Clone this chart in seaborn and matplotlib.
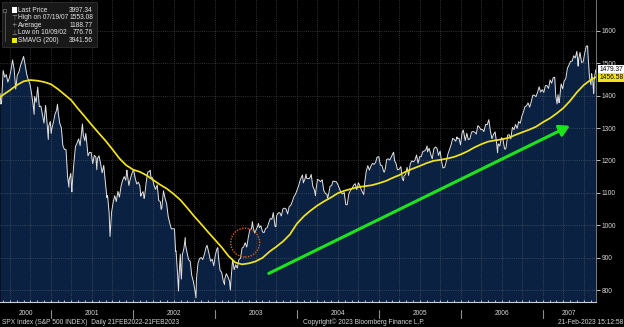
import pandas as pd
import matplotlib
matplotlib.use("Agg")
import matplotlib.pyplot as plt
import matplotlib.dates as mdates
import matplotlib.transforms as mtransforms
from matplotlib.patches import Ellipse, Rectangle
from matplotlib.ticker import MultipleLocator
import seaborn as sns

# ---------------------------------------------------------------- data
# SPX closes (month-day, close), one list per calendar year
prices_2000 = [("05-19", 1406.95), ("05-23", 1373.86), ("05-26", 1378.02), ("06-02", 1477.26),
               ("06-09", 1456.95), ("06-16", 1464.46), ("06-23", 1441.48), ("06-30", 1454.60),
               ("07-07", 1478.90), ("07-14", 1509.98), ("07-21", 1480.19), ("07-28", 1419.89),
               ("08-04", 1462.93), ("08-11", 1471.84), ("08-18", 1491.72), ("08-25", 1506.45),
               ("09-01", 1520.77), ("09-08", 1494.50), ("09-15", 1465.81), ("09-22", 1448.72),
               ("09-29", 1436.51), ("10-06", 1408.99), ("10-13", 1374.17), ("10-18", 1342.13),
               ("10-20", 1396.93), ("10-27", 1379.58), ("11-03", 1426.69), ("11-10", 1365.98),
               ("11-17", 1367.72), ("11-24", 1341.77), ("12-01", 1315.23), ("12-08", 1369.89),
               ("12-15", 1312.15), ("12-20", 1264.74), ("12-22", 1305.95), ("12-29", 1320.28)]
prices_2001 = [("01-02", 1283.27), ("01-05", 1298.35), ("01-12", 1318.32), ("01-19", 1342.54),
               ("01-26", 1354.95), ("01-30", 1373.73), ("02-02", 1349.47), ("02-09", 1314.76),
               ("02-16", 1301.53), ("02-23", 1245.86), ("03-02", 1234.18), ("03-09", 1233.42),
               ("03-16", 1150.53), ("03-22", 1117.58), ("03-23", 1139.83), ("03-30", 1160.33),
               ("04-04", 1103.25), ("04-06", 1128.43), ("04-12", 1183.50), ("04-20", 1242.98),
               ("04-27", 1253.05), ("05-04", 1266.61), ("05-11", 1245.67), ("05-21", 1312.83),
               ("05-25", 1277.89), ("06-01", 1260.67), ("06-05", 1283.57), ("06-08", 1264.96),
               ("06-15", 1214.36), ("06-22", 1225.35), ("06-29", 1224.38), ("07-06", 1190.59),
               ("07-13", 1215.68), ("07-20", 1210.85), ("07-24", 1171.65), ("07-27", 1205.82),
               ("08-03", 1214.35), ("08-10", 1190.16), ("08-17", 1161.97), ("08-24", 1184.93),
               ("08-31", 1133.58), ("09-07", 1085.78), ("09-10", 1092.54), ("09-17", 1038.77),
               ("09-21", 965.80), ("09-28", 1040.94), ("10-05", 1071.38), ("10-12", 1091.65),
               ("10-19", 1073.48), ("10-26", 1104.61), ("11-02", 1087.20), ("11-09", 1120.31),
               ("11-16", 1138.65), ("11-23", 1150.34), ("11-30", 1139.45), ("12-05", 1170.35),
               ("12-07", 1158.31), ("12-14", 1123.09), ("12-21", 1144.89), ("12-28", 1161.02)]
prices_2002 = [("01-04", 1172.51), ("01-11", 1145.60), ("01-18", 1127.58), ("01-25", 1133.28),
               ("02-01", 1122.20), ("02-05", 1090.02), ("02-08", 1096.22), ("02-15", 1104.18),
               ("02-20", 1083.34), ("02-22", 1089.84), ("03-01", 1131.78), ("03-08", 1164.31),
               ("03-15", 1166.16), ("03-19", 1170.29), ("03-22", 1148.70), ("03-28", 1147.39),
               ("04-05", 1122.73), ("04-12", 1111.01), ("04-19", 1125.17), ("04-26", 1076.32),
               ("05-03", 1073.43), ("05-07", 1049.49), ("05-10", 1054.99), ("05-17", 1106.59),
               ("05-24", 1083.82), ("05-31", 1067.14), ("06-07", 1027.53), ("06-14", 1007.27),
               ("06-21", 989.14), ("06-28", 989.82), ("07-05", 989.03), ("07-10", 920.47),
               ("07-12", 921.39), ("07-19", 847.75), ("07-23", 797.70), ("07-26", 852.84),
               ("07-31", 911.62), ("08-02", 864.24), ("08-05", 834.60), ("08-09", 908.64),
               ("08-16", 928.77), ("08-22", 962.70), ("08-23", 940.86), ("08-30", 916.07),
               ("09-06", 893.92), ("09-13", 889.81), ("09-20", 845.39), ("09-27", 827.37),
               ("10-04", 800.58), ("10-09", 776.76), ("10-11", 835.32), ("10-18", 884.39),
               ("10-25", 897.65), ("11-01", 900.96), ("11-08", 894.74), ("11-15", 909.83),
               ("11-22", 930.55), ("11-27", 938.87), ("12-06", 912.23), ("12-13", 889.48),
               ("12-20", 895.76), ("12-27", 875.40)]
prices_2003 = [("01-03", 908.59), ("01-10", 927.57), ("01-14", 931.66), ("01-17", 901.78),
               ("01-24", 861.40), ("01-31", 855.70), ("02-07", 829.69), ("02-13", 817.37),
               ("02-14", 834.89), ("02-21", 851.17), ("02-28", 841.15), ("03-07", 828.89),
               ("03-11", 800.73), ("03-14", 833.27), ("03-21", 895.79), ("03-28", 863.50),
               ("04-04", 878.85), ("04-11", 868.30), ("04-17", 893.58), ("04-25", 898.81),
               ("05-02", 930.08), ("05-09", 933.41), ("05-16", 946.67), ("05-23", 933.22),
               ("05-30", 963.59), ("06-06", 987.76), ("06-13", 988.61), ("06-17", 1011.66),
               ("06-20", 995.69), ("06-27", 976.22), ("07-03", 985.70), ("07-11", 998.14),
               ("07-14", 1006.06), ("07-18", 993.32), ("07-25", 998.68), ("08-01", 980.15),
               ("08-08", 977.59), ("08-15", 990.67), ("08-22", 993.06), ("08-29", 1008.01),
               ("09-05", 1021.39), ("09-12", 1018.63), ("09-18", 1039.58), ("09-26", 996.85),
               ("09-30", 995.97), ("10-03", 1029.85), ("10-10", 1038.06), ("10-17", 1039.32),
               ("10-24", 1028.91), ("10-31", 1050.71), ("11-07", 1053.21), ("11-14", 1050.35),
               ("11-21", 1035.28), ("11-28", 1058.20), ("12-05", 1061.50), ("12-12", 1074.14),
               ("12-19", 1088.66), ("12-26", 1095.89)]
prices_2004 = [("01-02", 1108.48), ("01-09", 1121.86), ("01-16", 1139.83), ("01-26", 1155.37),
               ("01-30", 1131.13), ("02-06", 1142.76), ("02-11", 1157.76), ("02-13", 1145.81),
               ("02-20", 1144.11), ("02-27", 1144.94), ("03-05", 1156.86), ("03-12", 1120.57),
               ("03-19", 1109.78), ("03-24", 1091.33), ("03-26", 1108.06), ("04-02", 1141.81),
               ("04-08", 1139.32), ("04-16", 1134.61), ("04-23", 1140.60), ("04-30", 1107.30),
               ("05-07", 1098.70), ("05-14", 1095.70), ("05-17", 1084.10), ("05-21", 1093.56),
               ("05-28", 1120.68), ("06-04", 1122.50), ("06-10", 1136.47), ("06-18", 1135.02),
               ("06-25", 1134.43), ("07-02", 1125.38), ("07-09", 1112.81), ("07-16", 1101.39),
               ("07-23", 1096.84), ("07-30", 1101.72), ("08-06", 1063.97), ("08-12", 1063.23),
               ("08-20", 1098.35), ("08-27", 1107.77), ("09-03", 1113.63), ("09-10", 1123.92),
               ("09-17", 1128.55), ("09-24", 1110.11), ("10-01", 1131.50), ("10-08", 1122.14),
               ("10-15", 1108.20), ("10-25", 1094.81), ("10-29", 1130.20), ("11-05", 1166.17),
               ("11-12", 1184.17), ("11-19", 1170.34), ("11-26", 1182.65), ("12-03", 1191.17),
               ("12-10", 1188.00), ("12-17", 1194.20), ("12-23", 1210.13), ("12-31", 1211.92)]
prices_2005 = [("01-07", 1186.19), ("01-14", 1184.52), ("01-21", 1167.87), ("01-24", 1163.75),
               ("01-28", 1171.36), ("02-04", 1203.03), ("02-11", 1205.30), ("02-18", 1201.59),
               ("02-25", 1211.37), ("03-04", 1222.12), ("03-07", 1225.31), ("03-11", 1200.08),
               ("03-18", 1190.21), ("03-24", 1171.42), ("04-01", 1172.92), ("04-08", 1181.20),
               ("04-15", 1142.62), ("04-20", 1137.50), ("04-22", 1152.12), ("04-29", 1156.85),
               ("05-06", 1178.84), ("05-13", 1154.05), ("05-20", 1189.28), ("05-27", 1198.78),
               ("06-03", 1196.02), ("06-10", 1200.93), ("06-17", 1216.96), ("06-24", 1191.57),
               ("07-01", 1211.86), ("07-08", 1211.86), ("07-15", 1227.92), ("07-22", 1229.03),
               ("07-29", 1234.18), ("08-03", 1245.04), ("08-05", 1226.42), ("08-12", 1237.81),
               ("08-19", 1219.71), ("08-26", 1205.10), ("09-02", 1235.39), ("09-09", 1241.48),
               ("09-16", 1237.91), ("09-23", 1215.29), ("09-30", 1228.81), ("10-07", 1195.90),
               ("10-13", 1176.84), ("10-21", 1179.59), ("10-28", 1198.41), ("11-04", 1220.14),
               ("11-11", 1234.72), ("11-18", 1248.27), ("11-25", 1268.25), ("12-02", 1265.08),
               ("12-09", 1259.37), ("12-14", 1272.74), ("12-16", 1267.32), ("12-23", 1268.66),
               ("12-30", 1248.29)]
prices_2006 = [("01-06", 1285.45), ("01-11", 1294.18), ("01-13", 1287.61), ("01-20", 1261.49),
               ("01-27", 1283.72), ("02-03", 1264.03), ("02-10", 1266.99), ("02-17", 1287.24),
               ("02-24", 1289.43), ("03-03", 1287.23), ("03-10", 1281.42), ("03-17", 1307.25),
               ("03-24", 1302.95), ("03-31", 1294.83), ("04-07", 1295.50), ("04-13", 1289.12),
               ("04-21", 1311.28), ("04-28", 1310.61), ("05-05", 1325.76), ("05-12", 1291.24),
               ("05-19", 1267.03), ("05-26", 1280.16), ("06-02", 1288.22), ("06-09", 1252.30),
               ("06-13", 1223.69), ("06-16", 1251.54), ("06-23", 1244.50), ("06-30", 1270.20),
               ("07-07", 1265.48), ("07-14", 1236.20), ("07-18", 1234.49), ("07-21", 1240.29),
               ("07-28", 1278.55), ("08-04", 1279.36), ("08-11", 1266.74), ("08-18", 1302.30),
               ("08-25", 1295.09), ("09-01", 1311.01), ("09-08", 1298.92), ("09-15", 1319.66),
               ("09-22", 1314.78), ("09-29", 1335.85), ("10-06", 1349.59), ("10-13", 1365.62),
               ("10-20", 1368.60), ("10-27", 1377.34), ("11-03", 1364.30), ("11-10", 1380.90),
               ("11-17", 1401.20), ("11-24", 1400.95), ("12-01", 1396.71), ("12-08", 1409.84),
               ("12-15", 1427.09), ("12-22", 1410.76), ("12-29", 1418.30)]
prices_2007 = [("01-05", 1409.71), ("01-12", 1430.73), ("01-19", 1430.50), ("01-26", 1422.18),
               ("02-02", 1448.39), ("02-09", 1438.06), ("02-16", 1455.54), ("02-22", 1456.38),
               ("02-23", 1451.19), ("02-27", 1399.04), ("03-02", 1387.17), ("03-05", 1374.12),
               ("03-09", 1402.84), ("03-14", 1377.95), ("03-16", 1386.95), ("03-23", 1436.11),
               ("03-30", 1420.86), ("04-05", 1443.76), ("04-13", 1452.85), ("04-20", 1484.35),
               ("04-27", 1494.07), ("05-04", 1505.62), ("05-11", 1505.85), ("05-18", 1522.75),
               ("05-25", 1515.73), ("06-01", 1536.34), ("06-07", 1490.72), ("06-08", 1507.67),
               ("06-15", 1532.91), ("06-22", 1502.56), ("06-29", 1503.35), ("07-06", 1530.44),
               ("07-13", 1552.50), ("07-19", 1553.08), ("07-20", 1534.10), ("07-27", 1458.95),
               ("08-03", 1433.06), ("08-06", 1467.67), ("08-09", 1453.09), ("08-10", 1453.64),
               ("08-15", 1406.70), ("08-16", 1411.27), ("08-17", 1445.94), ("08-24", 1479.37)]
price_years = [2000, 2001, 2002, 2003, 2004, 2005, 2006, 2007]

# 200-day simple moving average, first of each month Jun-2000 .. Aug-2007
sma_first = ("2000-05-19", 1395.0)
sma_monthly = [1402, 1416, 1432, 1444, 1448, 1446, 1442,
               1435, 1420, 1404, 1386, 1360, 1335, 1310, 1285, 1261, 1235, 1207, 1186,
               1172, 1165, 1155, 1140, 1126, 1113, 1097, 1078, 1053, 1028, 1004, 980,
               956, 932, 907, 886, 880, 883, 889, 900, 919, 934, 951, 972,
               1005, 1028, 1045, 1061, 1074, 1086, 1099, 1107, 1113, 1118, 1121, 1124,
               1130, 1137, 1146, 1155, 1166, 1175, 1183, 1192, 1199, 1202, 1206, 1211,
               1219, 1229, 1240, 1250, 1258, 1262, 1265, 1270, 1279, 1287, 1295, 1304,
               1318, 1330, 1344, 1361, 1383, 1410, 1432, 1448]
sma_last = ("2007-08-24", 1456.58)

last_price = 1479.37
last_sma = 1456.58

legend_labels = ["Last Price", "High on 07/19/07", "Average", "Low on 10/09/02", "SMAVG (200)"]
legend_values = ["3997.34", "1553.08", "1188.77", "776.76", "3941.56"]

# trend arrow and highlighted breakout (date, level)
trend_start = ("2003-08-29", 852)
trend_end = ("2007-05-01", 1307)
breakout_center = ("2003-05-16", 947)
breakout_size = (129, 89)      # days wide, index points tall

y_ticks = [800, 900, 1000, 1100, 1200, 1300, 1400, 1500, 1600]
y_limits = (763, 1694.6)

# ---------------------------------------------------------------- frames
rows = []
for yr, lst in zip(price_years, [prices_2000, prices_2001, prices_2002, prices_2003,
                                 prices_2004, prices_2005, prices_2006, prices_2007]):
    for md, v in lst:
        rows.append((pd.Timestamp(f"{yr}-{md}"), v))
price = pd.DataFrame(rows, columns=["date", "close"])

sma_dates = ([pd.Timestamp(sma_first[0])]
             + list(pd.date_range("2000-06-01", periods=len(sma_monthly), freq="MS"))
             + [pd.Timestamp(sma_last[0])])
sma = pd.DataFrame({"date": sma_dates,
                    "sma": [sma_first[1]] + sma_monthly + [sma_last[1]]})

# ---------------------------------------------------------------- style
sns.set_style("dark")
plt.rcParams["font.family"] = ["Liberation Sans", "DejaVu Sans"]

W, H = 624, 327
AX_RIGHT, AX_BOTTOM = 595.7, 302.3
fig = plt.figure(figsize=(W / 100, H / 100), dpi=100, facecolor="black")
ax = fig.add_axes([0, (H - AX_BOTTOM) / H, AX_RIGHT / W, AX_BOTTOM / H])
ax.set_facecolor("black")
px = mtransforms.Affine2D().scale(1 / W, -1 / H).translate(0, 1) + fig.transFigure

FILL = "#0b2142"
YELLOW = "#f2e41c"
GREEN = "#1fe21f"
TXT = "#d4d4d4"
FS = 4.8

x0, x1 = price["date"].iloc[0], price["date"].iloc[-1]

# area under the price line
ax.fill_between(price["date"], price["close"], y_limits[0], color=FILL, lw=0, zorder=0.2)
sns.lineplot(data=price, x="date", y="close", ax=ax, color="#e2e2e2", lw=0.7, zorder=3)
sns.lineplot(data=sma, x="date", y="sma", ax=ax, color=YELLOW, lw=1.25, zorder=4)

# axes
ax.set_xlim(x0, x1)
ax.set_ylim(*y_limits)
ax.set_xlabel("")
ax.set_ylabel("")
ax.xaxis.set_major_locator(mdates.MonthLocator(bymonth=[1, 4, 7, 10]))
ax.xaxis.set_minor_locator(mdates.MonthLocator())
ax.yaxis.set_major_locator(MultipleLocator(100))
ax.set_yticks(y_ticks)
ax.set_yticklabels([str(t) for t in y_ticks])
ax.yaxis.tick_right()
ax.tick_params(axis="y", which="both", direction="out", length=3, width=0.6, color="#e0e0e0",
               labelcolor=TXT, labelsize=FS, pad=1.5, left=False, right=True)
ax.tick_params(axis="x", which="both", direction="in", length=1.6, width=0.6, color="#d8d8d8",
               labelbottom=False, bottom=True)
ax.set_axisbelow(True)
ax.grid(True, which="major", axis="both", color="#7a7a7a", lw=0.6, linestyle=(0, (1, 1.6)), alpha=0.55)
for side in ("top", "left"):
    ax.spines[side].set_visible(False)
ax.spines["bottom"].set_color("#d0d0d0")
ax.spines["bottom"].set_linewidth(0.8)
ax.spines["right"].set_color("#8a8a8a")
ax.spines["right"].set_linewidth(0.6)

# year separators and centred year labels below the axis
blend = mtransforms.blended_transform_factory(ax.transData, ax.transAxes)
for yr in price_years:
    start = max(pd.Timestamp(f"{yr}-01-01"), x0)
    end = min(pd.Timestamp(f"{yr + 1}-01-01"), x1)
    mid = start + (end - start) / 2
    ax.text(mid, -0.037, str(yr), transform=blend, ha="center", va="center",
            fontsize=FS, color=TXT, clip_on=False)
    if yr > price_years[0]:
        ax.plot([start, start], [-0.026, -0.053], transform=blend, color="#8c8c8c",
                lw=0.8, clip_on=False)

# last value tags on the right edge
yblend = mtransforms.blended_transform_factory(ax.transAxes, ax.transData)
ax.text(1.006, last_price, f"{last_price:.2f}", transform=yblend, ha="left", va="center",
        fontsize=FS, color="black", zorder=6,
        bbox=dict(boxstyle="square,pad=0.15", fc="white", ec="none"))
ax.text(1.006, last_sma, f"{last_sma:.2f}", transform=yblend, ha="left", va="center",
        fontsize=FS, color="black", zorder=6,
        bbox=dict(boxstyle="square,pad=0.15", fc=YELLOW, ec="none"))

# trend arrow
ax.annotate("", xy=(pd.Timestamp(trend_end[0]), trend_end[1]),
            xytext=(pd.Timestamp(trend_start[0]), trend_start[1]),
            arrowprops=dict(arrowstyle="-|>,head_length=0.55,head_width=0.32", color=GREEN,
                            lw=2.2, mutation_scale=11, shrinkA=0, shrinkB=0), zorder=5)

# dotted ring around the breakout
ax.add_patch(Ellipse((mdates.date2num(pd.Timestamp(breakout_center[0])), breakout_center[1]),
                     width=breakout_size[0], height=breakout_size[1], fill=False,
                     edgecolor="#d8621f", lw=1.0, linestyle=(0, (1, 1)), zorder=5))

# legend panel
fig.add_artist(Rectangle((2, 2), 95, 45, transform=px, facecolor="#1b1b1b",
                         edgecolor="#3c3c3c", lw=0.5, alpha=0.92, zorder=10))
row_y = [10, 17.6, 25.2, 32.8, 40.6]
fig.add_artist(plt.Line2D([4.5, 4.5], [11.5, 40.6], transform=px, color="#6a6a6a", lw=0.5, zorder=11))
fig.add_artist(Rectangle((3, 8.5), 3, 3, transform=px, facecolor="none", edgecolor="#8a8a8a",
                         lw=0.4, zorder=11))
for i, (lab, val) in enumerate(zip(legend_labels, legend_values)):
    y = row_y[i]
    fig.text(18, y, lab, transform=px, ha="left", va="center", fontsize=FS, color="#e6e6e6", zorder=12)
    fig.text(93, y, val, transform=px, ha="right", va="center", fontsize=FS, color="#e6e6e6", zorder=12)
fig.add_artist(Rectangle((11.5, 7.2), 5.5, 5.5, transform=px, facecolor="white", edgecolor="none", zorder=11))
fig.add_artist(Rectangle((11.5, 37.8), 5.5, 5.5, transform=px, facecolor=YELLOW, edgecolor="none", zorder=11))
for sym, y in zip(["\u22a4", "+", "\u22a5"], row_y[1:4]):
    fig.text(14.2, y, sym, transform=px, ha="center", va="center", fontsize=FS,
             color="#9a9a9a", family="DejaVu Sans", zorder=12)

# footer
fig.text(2, 322.5, "SPX Index (S&P 500 INDEX)  Daily 21FEB2022-21FEB2023", transform=px,
         ha="left", va="center", fontsize=FS, color=TXT)
fig.text(303, 322.5, "Copyright\u00a9 2023 Bloomberg Finance L.P.", transform=px,
         ha="left", va="center", fontsize=FS, color=TXT)
fig.text(623, 322.5, "21-Feb-2023 15:12:58", transform=px,
         ha="right", va="center", fontsize=FS, color=TXT)

fig.savefig("out.png", dpi=100, facecolor="black")
